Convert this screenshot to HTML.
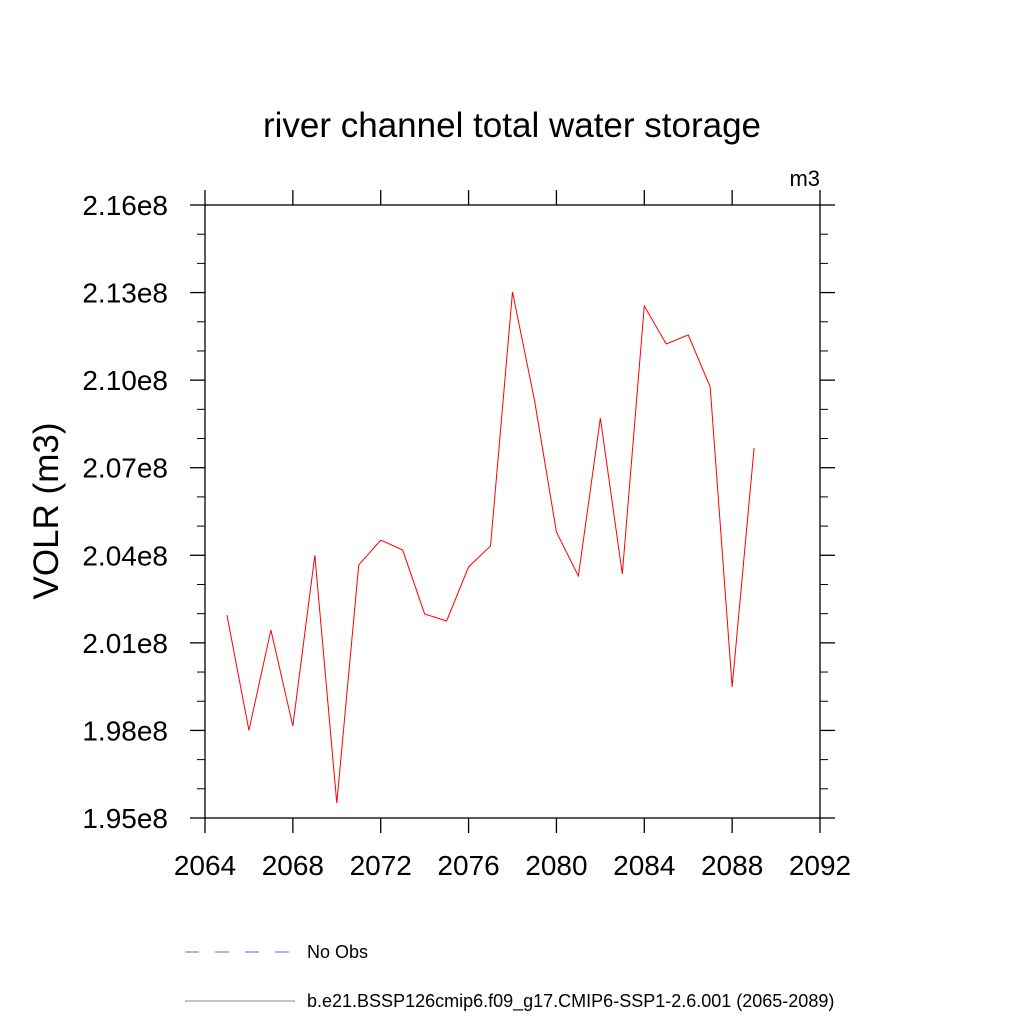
<!DOCTYPE html>
<html><head><meta charset="utf-8"><style>body{margin:0;background:#fff}svg{display:block;font-family:"Liberation Sans",sans-serif}</style></head>
<body>
<svg id="chart" width="1024" height="1024">
<text x="512" y="137" font-size="35" text-anchor="middle">river channel total water storage</text>
<text x="820" y="186" font-size="22" text-anchor="end">m3</text>
<text transform="translate(58,511) rotate(-90)" font-size="35" text-anchor="middle">VOLR  (m3)</text>
<g id="axes"></g>
<g id="series"></g>
<line x1="185" y1="952" x2="295" y2="952" stroke="#6060ff" stroke-width="1" stroke-dasharray="14,16"/>
<text x="307" y="958" font-size="18">No Obs</text>
<line x1="185" y1="1001" x2="295" y2="1001" stroke="#888" stroke-width="1"/>
<text x="307" y="1007" font-size="18">b.e21.BSSP126cmip6.f09_g17.CMIP6-SSP1-2.6.001 (2065-2089)</text>
</svg>
<script>
const years=[2065,2066,2067,2068,2069,2070,2071,2072,2073,2074,2075,2076,2077,2078,2079,2080,2081,2082,2083,2084,2085,2086,2087,2088,2089];
const values=[2.0195,1.980,2.0144,1.9815,2.040,1.9551,2.0367,2.0452,2.0418,2.0199,2.0175,2.036,2.0432,2.1302,2.0932,2.048,2.0329,2.087,2.0336,2.1254,2.1124,2.1155,2.0977,1.9949,2.0768];
const xTicks=[2064,2068,2072,2076,2080,2084,2088,2092];
const yTicks=[1.95,1.98,2.01,2.04,2.07,2.10,2.13,2.16];
const yTickLabels=["1.95e8","1.98e8","2.01e8","2.04e8","2.07e8","2.10e8","2.13e8","2.16e8"];
const X0=205,X1=820,Y0=818,Y1=205,xmin=2064,xmax=2092,ymin=1.95,ymax=2.16;
const sx=v=>X0+(v-xmin)/(xmax-xmin)*(X1-X0);
const sy=v=>Y0-(v-ymin)/(ymax-ymin)*(Y0-Y1);
const NS="http://www.w3.org/2000/svg";
const ax=document.getElementById('axes');
function ln(x1,y1,x2,y2,name,w){const l=document.createElementNS(NS,'line');l.setAttribute('x1',x1);l.setAttribute('y1',y1);l.setAttribute('x2',x2);l.setAttribute('y2',y2);l.setAttribute('stroke','#000');l.setAttribute('stroke-width',w||1.3);


ax.appendChild(l);}
function tx(x,y,s,anchor,name){const t=document.createElementNS(NS,'text');t.setAttribute('x',x);t.setAttribute('y',y);t.setAttribute('font-size','28');t.setAttribute('text-anchor',anchor);t.textContent=s;


ax.appendChild(t);}
const r=document.createElementNS(NS,'rect');r.setAttribute('x',X0);r.setAttribute('y',Y1);r.setAttribute('width',X1-X0);r.setAttribute('height',Y0-Y1);r.setAttribute('fill','none');r.setAttribute('stroke','#000');r.setAttribute('stroke-width','1.3');


ax.appendChild(r);
xTicks.forEach(v=>{const x=sx(v);ln(x,Y0,x,Y0+15,'x-tick');ln(x,Y1,x,Y1-15,'x-tick-top');tx(x,Y0+57,String(v),'middle','x-tick-label');});
for(let i=0;i<yTicks.length;i++){const y=sy(yTicks[i]);ln(X0-15,y,X0,y,'y-tick');ln(X1,y,X1+15,y,'y-tick-right');tx(X0-37,y+10,yTickLabels[i],'end','y-tick-label');
 if(i<yTicks.length-1){for(let k=1;k<3;k++){const ym=sy(yTicks[i]+k*0.01);ln(X0-8,ym,X0,ym,'y-minor-tick',1);ln(X1,ym,X1+8,ym,'y-minor-tick-right',1);}}}
const p=document.createElementNS(NS,'polyline');
p.setAttribute('points',years.map((y,i)=>sx(y)+','+sy(values[i])).join(' '));
p.setAttribute('fill','none');p.setAttribute('stroke','#ff0000');p.setAttribute('stroke-width','1');


document.getElementById('series').appendChild(p);
</script>
</body></html>
